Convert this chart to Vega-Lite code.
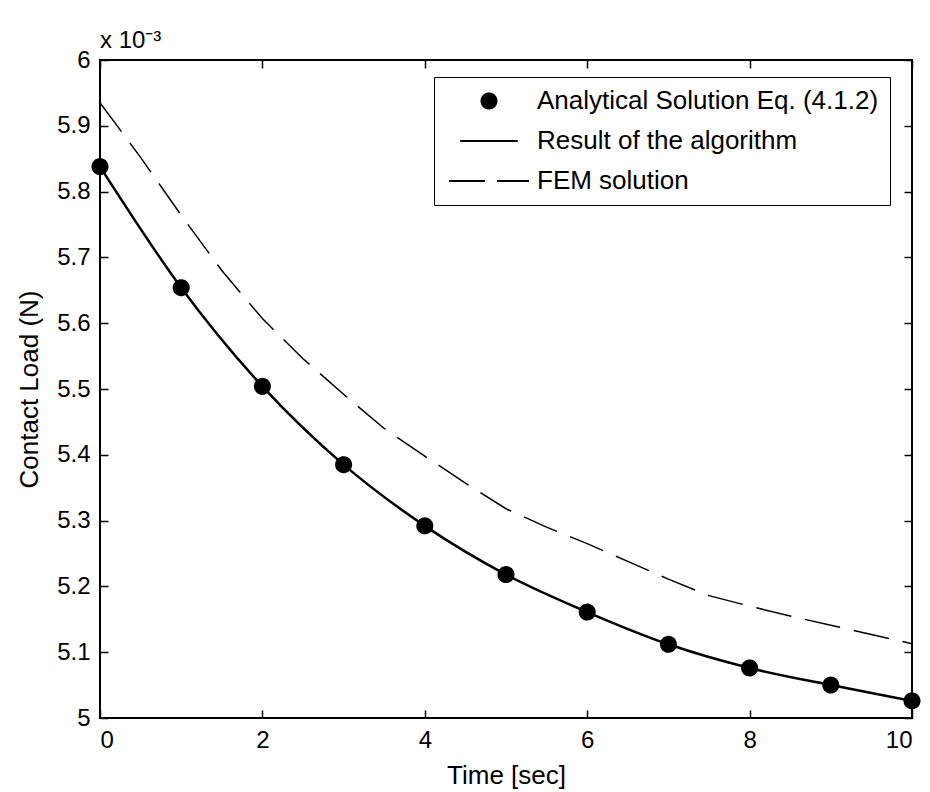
{
  "$schema": "https://vega.github.io/schema/vega-lite/v6.json",
  "width": 812,
  "height": 658,
  "autosize": {"type": "none"},
  "padding": {"left": 100, "top": 60, "right": 18, "bottom": 74},
  "background": "white",
  "title": {"text": "x 10⁻³", "anchor": "start", "frame": "group", "fontSize": 24, "fontWeight": "normal", "color": "black", "offset": -5},
  "config": {
    "font": "Liberation Sans, sans-serif",
    "view": {"stroke": "black", "strokeWidth": 2},
    "axis": {
      "domain": false, "grid": false, "ticks": true, "tickSize": -8, "tickColor": "black", "tickWidth": 1.5,
      "labelFontSize": 24, "labelColor": "black", "titleFontSize": 26, "titleColor": "black", "titleFontWeight": "normal",
      "labelPadding": 18
    },
    "legend": {
      "orient": "none", "legendX": 334, "legendY": 17, "padding": 11,
      "strokeColor": "black", "fillColor": "white",
      "labelFontSize": 26, "labelColor": "black", "labelLimit": 500,
      "symbolStrokeWidth": 2, "clipHeight": 26,
      "symbolOffset": 3, "labelOffset": 7, "rowPadding": 14
    }
  },
  "datasets": {
    "analytical": [
      {"t": 0, "load": 5.838, "series": "Analytical Solution Eq. (4.1.2)"},
      {"t": 1, "load": 5.654, "series": "Analytical Solution Eq. (4.1.2)"},
      {"t": 2, "load": 5.504, "series": "Analytical Solution Eq. (4.1.2)"},
      {"t": 3, "load": 5.385, "series": "Analytical Solution Eq. (4.1.2)"},
      {"t": 4, "load": 5.292, "series": "Analytical Solution Eq. (4.1.2)"},
      {"t": 5, "load": 5.218, "series": "Analytical Solution Eq. (4.1.2)"},
      {"t": 6, "load": 5.161, "series": "Analytical Solution Eq. (4.1.2)"},
      {"t": 7, "load": 5.112, "series": "Analytical Solution Eq. (4.1.2)"},
      {"t": 8, "load": 5.076, "series": "Analytical Solution Eq. (4.1.2)"},
      {"t": 9, "load": 5.050, "series": "Analytical Solution Eq. (4.1.2)"},
      {"t": 10, "load": 5.026, "series": "Analytical Solution Eq. (4.1.2)"}
    ],
    "algorithm": [
      {"t": 0, "load": 5.838, "series": "Result of the algorithm"},
      {"t": 1, "load": 5.654, "series": "Result of the algorithm"},
      {"t": 2, "load": 5.504, "series": "Result of the algorithm"},
      {"t": 3, "load": 5.385, "series": "Result of the algorithm"},
      {"t": 4, "load": 5.292, "series": "Result of the algorithm"},
      {"t": 5, "load": 5.218, "series": "Result of the algorithm"},
      {"t": 6, "load": 5.161, "series": "Result of the algorithm"},
      {"t": 7, "load": 5.112, "series": "Result of the algorithm"},
      {"t": 8, "load": 5.076, "series": "Result of the algorithm"},
      {"t": 9, "load": 5.050, "series": "Result of the algorithm"},
      {"t": 10, "load": 5.026, "series": "Result of the algorithm"}
    ],
    "fem": [
      {"t": 0, "load": 5.935, "series": "FEM solution"},
      {"t": 0.5, "load": 5.852, "series": "FEM solution"},
      {"t": 1, "load": 5.764, "series": "FEM solution"},
      {"t": 1.5, "load": 5.680, "series": "FEM solution"},
      {"t": 2, "load": 5.607, "series": "FEM solution"},
      {"t": 2.5, "load": 5.546, "series": "FEM solution"},
      {"t": 3, "load": 5.492, "series": "FEM solution"},
      {"t": 3.5, "load": 5.440, "series": "FEM solution"},
      {"t": 4, "load": 5.398, "series": "FEM solution"},
      {"t": 4.5, "load": 5.357, "series": "FEM solution"},
      {"t": 5, "load": 5.318, "series": "FEM solution"},
      {"t": 5.5, "load": 5.290, "series": "FEM solution"},
      {"t": 6, "load": 5.265, "series": "FEM solution"},
      {"t": 6.5, "load": 5.238, "series": "FEM solution"},
      {"t": 7, "load": 5.211, "series": "FEM solution"},
      {"t": 7.5, "load": 5.186, "series": "FEM solution"},
      {"t": 8, "load": 5.170, "series": "FEM solution"},
      {"t": 8.5, "load": 5.155, "series": "FEM solution"},
      {"t": 9, "load": 5.141, "series": "FEM solution"},
      {"t": 9.5, "load": 5.127, "series": "FEM solution"},
      {"t": 10, "load": 5.113, "series": "FEM solution"}
    ]
  },
  "resolve": {"axis": {"x": "independent", "y": "independent"}},
  "layer": [
    {
      "data": {"name": "fem"},
      "mark": {"type": "line", "color": "black", "strokeWidth": 1.5, "strokeDash": [36, 14]},
      "encoding": {
        "x": {"field": "t", "type": "quantitative", "scale": {"domain": [0, 10]},
              "axis": {"orient": "top", "labels": false, "title": null, "values": [0, 2, 4, 6, 8, 10]}},
        "y": {"field": "load", "type": "quantitative", "scale": {"domain": [5, 6], "zero": false},
              "axis": {"orient": "right", "labels": false, "title": null, "values": [5, 5.1, 5.2, 5.3, 5.4, 5.5, 5.6, 5.7, 5.8, 5.9, 6]}}
      }
    },
    {
      "data": {"name": "algorithm"},
      "mark": {"type": "line", "color": "black", "strokeWidth": 2.5, "interpolate": "monotone"},
      "encoding": {
        "x": {"field": "t", "type": "quantitative", "axis": null},
        "y": {"field": "load", "type": "quantitative", "axis": null}
      }
    },
    {
      "data": {"name": "analytical"},
      "mark": {"type": "point", "filled": false, "color": "black", "fill": "black", "stroke": "black", "strokeWidth": 2, "opacity": 1},
      "encoding": {
        "x": {"field": "t", "type": "quantitative",
              "axis": {"orient": "bottom", "title": "Time [sec]", "values": [0, 2, 4, 6, 8, 10], "titlePadding": 10}},
        "y": {"field": "load", "type": "quantitative",
              "axis": {"orient": "left", "title": "Contact Load (N)", "format": "~g", "titlePadding": 14,
                       "values": [5, 5.1, 5.2, 5.3, 5.4, 5.5, 5.6, 5.7, 5.8, 5.9, 6]}},
        "shape": {"field": "series", "type": "nominal", "title": null,
          "scale": {"domain": ["Analytical Solution Eq. (4.1.2)", "Result of the algorithm", "FEM solution"],
                    "range": ["circle", "stroke", "stroke"]}},
        "size": {"field": "series", "type": "nominal", "title": null,
          "scale": {"domain": ["Analytical Solution Eq. (4.1.2)", "Result of the algorithm", "FEM solution"],
                    "range": [225, 6400, 6400]}},
        "strokeDash": {"field": "series", "type": "nominal", "title": null,
          "scale": {"domain": ["Analytical Solution Eq. (4.1.2)", "Result of the algorithm", "FEM solution"],
                    "range": [[1, 0], [1, 0], [36, 12]]}}
      }
    }
  ]
}
